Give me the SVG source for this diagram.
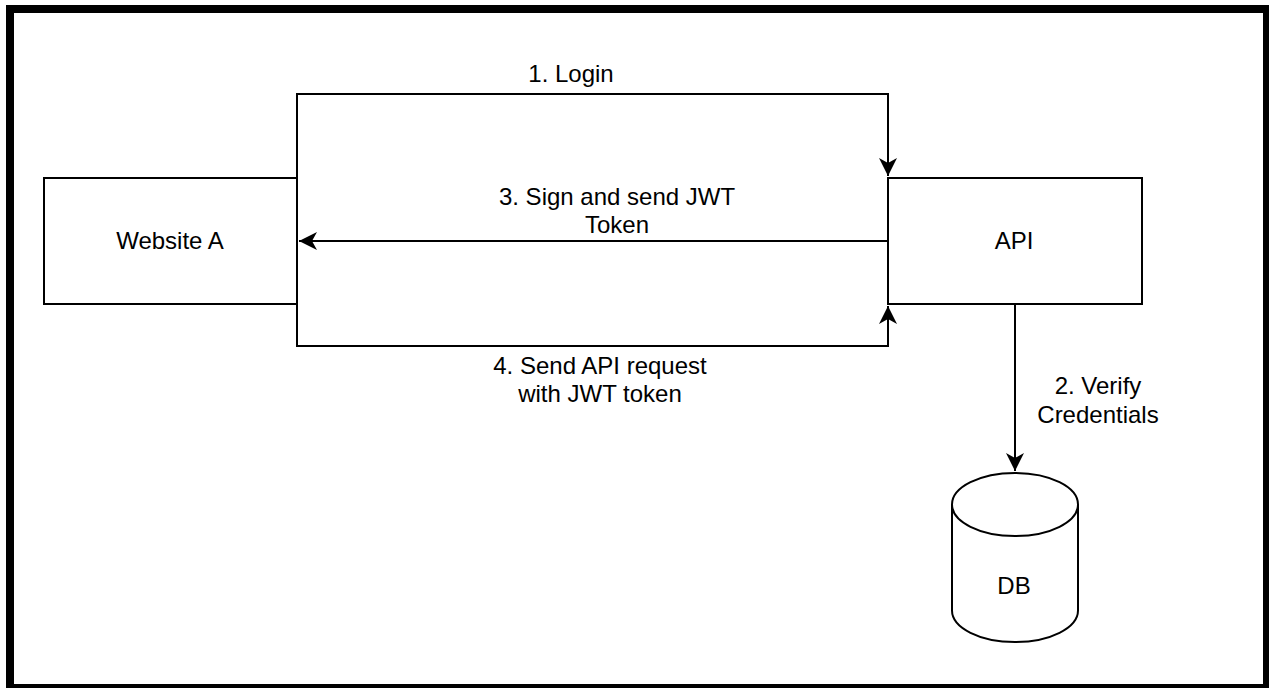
<svg xmlns="http://www.w3.org/2000/svg" width="1269" height="688" viewBox="0 0 1269 688">
<style>
.node{fill:#ffffff;stroke:#000000;stroke-width:2}
.edge{fill:none;stroke:#000000;stroke-width:2}
text{font-family:"Liberation Sans",Arial,Helvetica,sans-serif;font-size:24px;fill:#000000;text-anchor:middle}
</style>
<defs>
<marker id="arrow" viewBox="0 0 18 18" refX="18" refY="9" markerWidth="18" markerHeight="18" markerUnits="userSpaceOnUse" orient="auto">
<path d="M0,0 L18,9 L0,18 L5,9 Z" fill="#000000"/>
</marker>
</defs>
<rect x="0" y="0" width="1269" height="688" fill="#ffffff"/>
<rect x="10" y="9" width="1257" height="679" fill="none" stroke="#000000" stroke-width="8"/>
<g id="website-a">
<rect class="node" x="44" y="178" width="253" height="126"/>
<text x="170" y="249">Website A</text>
</g>
<g id="api">
<rect class="node" x="888" y="178" width="254" height="126"/>
<text x="1014" y="249">API</text>
</g>
<g id="db">
<path class="node" d="M952,504.5 A63,31.5 0 0 1 1078,504.5 L1078,610.5 A63,31.5 0 0 1 952,610.5 Z"/>
<path class="edge" d="M952,504.5 A63,31.5 0 0 0 1078,504.5"/>
<text x="1014" y="594">DB</text>
</g>
<g id="connectors">
<path class="edge" d="M297,178 L297,94 L888,94 L888,176" marker-end="url(#arrow)"/>
<path class="edge" d="M888,241 L299,241" marker-end="url(#arrow)"/>
<path class="edge" d="M297,304 L297,346 L888,346 L888,306" marker-end="url(#arrow)"/>
<path class="edge" d="M1015,304 L1015,471" marker-end="url(#arrow)"/>
<text x="571" y="82">1. Login</text>
<text x="617" y="205">3. Sign and send JWT</text>
<text x="617" y="233">Token</text>
<text x="600" y="374">4. Send API request</text>
<text x="600" y="402">with JWT token</text>
<text x="1098" y="394">2. Verify</text>
<text x="1098" y="423">Credentials</text>
</g>
</svg>
